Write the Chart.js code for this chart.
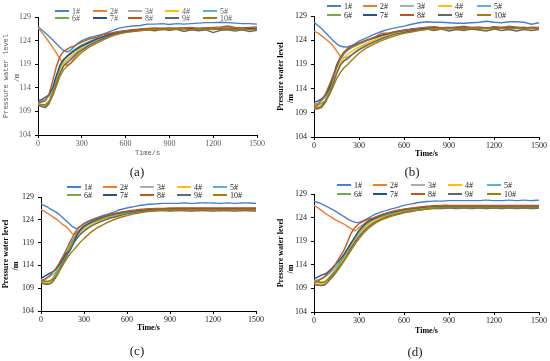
<!DOCTYPE html>
<html><head><meta charset="utf-8">
<script src="https://cdn.jsdelivr.net/npm/chart.js@4.4.0/dist/chart.umd.min.js"></script>
<style>
html,body{margin:0;padding:0;background:#fff;overflow:hidden;}
.p{position:absolute;width:275px;height:180px;}
canvas{display:block;}
</style></head><body>
<div class="p" style="left:0;top:0"><canvas id="ca" width="275" height="180"></canvas></div>
<div class="p" style="left:275px;top:0"><canvas id="cb" width="275" height="180"></canvas></div>
<div class="p" style="left:0;top:180px"><canvas id="cc" width="275" height="180"></canvas></div>
<div class="p" style="left:275px;top:180px"><canvas id="cd" width="275" height="180"></canvas></div>
<script>
// time (s)
const times = [0,25,50,75,100,125,150,175,200,225,250,275,300,
  350,400,450,500,550,600,650,700,750,800,850,900,950,1000,1050,1100,1150,1200,1250,1300,1350,1400,1450,1500];
const seriesLabels = ['1#','2#','3#','4#','5#','6#','7#','8#','9#','10#'];
const panelLabels = ['(a)','(b)','(c)','(d)'];
const xTickValues = [0,300,600,900,1200,1500];
const yTickValues = [104,109,114,119,124,129];

// ---- panel (a) ----
const a1 = [126.9,126.3,125.6,124.9,124.2,123.4,122.6,121.9,121.6,122.0,122.8,123.5,124.0,
  124.6,125.0,125.4,126.0,126.6,126.9,127.1,127.2,127.5,127.5,127.6,127.4,127.6,127.5,127.6,127.7,127.8,127.8,127.9,127.8,127.7,127.6,127.6,127.5];
const a2 = [126.7,125.8,124.8,123.7,122.6,121.4,120.2,119.0,118.8,119.3,120.4,121.3,122.0,
  123.2,124.0,124.8,125.4,125.9,126.1,126.3,126.4,126.5,126.5,126.6,126.4,126.6,126.5,126.6,126.4,126.6,126.5,126.7,126.9,126.6,126.5,126.6,126.6];
const a3 = [110.5,110.2,110.1,110.8,112.6,115.0,117.4,118.8,119.6,120.4,121.0,121.7,122.3,
  123.2,123.9,124.6,125.2,125.6,125.9,126.1,126.2,126.4,126.2,126.5,126.3,126.5,126.2,126.5,126.3,126.5,126.3,126.5,126.4,126.2,126.5,126.3,126.4];
const a4 = [110.4,110.3,110.5,111.2,112.8,115.2,117.6,119.2,120.0,120.7,121.4,122.0,122.5,
  123.4,124.1,124.7,125.2,125.6,125.9,126.1,126.3,126.4,126.5,126.4,126.5,126.5,126.4,126.5,126.5,126.4,126.5,126.5,126.4,126.5,126.5,126.4,126.5];
const a5 = [110.9,111.2,111.6,112.2,113.6,116.0,118.4,119.8,120.6,121.2,121.8,122.3,122.8,
  123.5,124.2,124.8,125.3,125.7,126.0,126.2,126.4,126.5,126.6,126.7,126.6,126.7,126.7,126.6,126.7,126.7,126.6,126.7,126.7,126.6,126.7,126.7,126.7];
const a6 = [110.6,110.3,110.0,111.0,113.2,115.8,118.3,119.8,120.8,121.5,122.1,122.6,123.1,
  123.8,124.4,124.9,125.4,125.8,126.0,126.2,126.3,126.4,126.4,126.5,126.4,126.5,126.5,126.4,126.5,126.5,126.4,126.5,126.5,126.4,126.5,126.5,126.5];
const a7 = [111.2,111.5,112.0,112.5,114.0,116.5,118.8,120.0,120.7,121.3,121.9,122.4,122.9,
  123.6,124.3,124.9,125.4,125.8,126.0,126.2,126.3,126.4,126.5,126.5,126.6,126.5,126.6,126.6,126.5,126.6,126.6,126.5,126.6,126.6,126.5,126.6,126.6];
const a8 = [110.8,111.0,111.2,112.6,115.3,118.4,120.6,121.7,122.2,122.6,122.9,123.3,123.7,
  124.3,124.7,125.3,125.6,125.9,126.1,126.3,126.4,126.6,126.7,126.5,126.7,126.6,126.7,126.8,126.6,126.7,126.8,126.9,127.1,126.8,126.7,126.8,126.9];
const a9 = [110.3,110.0,109.8,110.6,112.4,114.8,117.0,118.6,119.3,120.0,120.8,121.5,122.0,
  123.0,123.8,124.5,125.1,125.5,125.8,126.0,126.2,126.3,126.1,126.4,126.2,126.4,125.9,126.3,126.1,126.3,125.7,126.2,126.3,126.0,126.3,125.9,126.2];
const a10 = [110.6,110.5,110.4,111.0,112.3,114.3,116.4,117.8,118.6,119.2,120.0,120.8,121.5,
  122.6,123.4,124.2,124.9,125.4,125.7,125.9,126.1,126.3,126.4,126.3,126.5,126.4,126.5,126.3,126.5,126.4,126.5,126.4,126.5,126.4,126.5,126.3,126.4];

// ---- panel (b) ----
const b1 = [127.7,127.1,126.4,125.6,124.8,124.0,123.3,122.8,122.6,122.6,122.9,123.3,123.8,
  124.5,125.2,125.8,126.3,126.6,126.9,127.3,127.6,127.8,127.7,127.7,127.6,127.5,127.5,127.6,127.7,127.9,127.7,127.6,127.8,127.8,127.7,127.3,127.6];
const b2 = [125.9,125.5,124.9,124.3,123.7,122.9,121.8,120.7,120.4,120.5,121.0,121.6,122.2,
  123.1,123.8,124.5,125.0,125.5,125.9,126.2,126.4,126.6,126.5,126.6,126.4,126.6,126.7,126.5,126.6,126.4,126.6,126.7,126.5,126.6,126.5,126.6,126.5];
const b3 = [110.0,109.8,110.0,111.0,112.8,115.0,117.3,119.0,119.9,120.4,121.0,121.6,122.2,
  123.1,123.8,124.4,125.0,125.4,125.8,126.0,126.2,126.4,126.2,126.5,126.2,126.4,126.3,126.5,126.2,126.4,126.3,126.5,126.2,126.4,126.3,126.5,126.4];
const b4 = [110.5,110.3,110.5,111.3,113.0,115.3,117.6,119.4,120.4,121.1,121.7,122.2,122.6,
  123.4,124.0,124.6,125.1,125.5,125.9,126.1,126.3,126.4,126.5,126.4,126.5,126.5,126.4,126.5,126.5,126.4,126.5,126.5,126.4,126.5,126.5,126.4,126.5];
const b5 = [110.8,111.0,111.5,112.2,113.6,115.8,118.2,120.0,121.1,121.9,122.4,122.8,123.2,
  123.9,124.5,125.0,125.4,125.8,126.1,126.3,126.5,126.6,126.7,126.6,126.7,126.7,126.6,126.7,126.7,126.6,126.7,126.7,126.6,126.7,126.7,126.6,126.7];
const b6 = [110.3,110.0,110.1,111.4,113.4,115.9,118.4,120.3,121.4,122.1,122.5,122.9,123.2,
  123.9,124.4,124.9,125.3,125.7,126.0,126.2,126.3,126.4,126.5,126.4,126.5,126.5,126.4,126.5,126.5,126.4,126.5,126.5,126.4,126.5,126.5,126.4,126.5];
const b7 = [111.2,111.4,111.9,112.6,114.0,116.3,118.8,120.4,121.5,122.2,122.7,123.1,123.4,
  124.0,124.5,125.0,125.4,125.8,126.0,126.2,126.4,126.5,126.6,126.5,126.6,126.6,126.5,126.6,126.6,126.5,126.6,126.6,126.5,126.6,126.6,126.5,126.6];
const b8 = [110.1,110.6,111.6,112.8,114.6,116.5,118.4,120.2,121.5,122.3,122.7,123.0,123.4,
  123.9,124.6,125.4,125.5,125.8,126.0,126.3,126.5,126.7,126.8,126.6,126.5,126.7,126.9,126.6,126.7,126.5,126.8,126.6,126.9,126.7,126.5,126.7,126.6];
const b9 = [109.7,109.9,110.3,111.2,112.7,114.8,117.0,118.8,119.7,120.2,120.9,121.5,122.0,
  122.9,123.6,124.3,124.9,125.3,125.6,125.9,126.1,126.3,126.0,126.3,125.9,126.2,126.0,126.3,126.1,125.9,126.3,126.0,126.2,125.9,126.2,126.0,126.2];
const b10 = [110.6,110.7,110.9,111.5,112.6,114.2,116.0,117.3,118.3,119.0,119.8,120.6,121.3,
  122.4,123.2,123.9,124.5,125.0,125.4,125.7,126.0,126.2,126.4,126.3,126.5,126.4,126.3,126.5,126.4,126.5,126.3,126.5,126.4,126.5,126.3,126.5,126.4];

// ---- panel (c) ----
const c1 = [127.5,127.1,126.7,126.2,125.8,125.2,124.5,123.8,123.1,122.4,122.1,122.6,123.2,
  124.0,124.6,125.1,125.6,126.2,126.6,126.9,127.2,127.4,127.5,127.6,127.6,127.6,127.7,127.6,127.7,127.7,127.7,127.6,127.7,127.6,127.7,127.7,127.6];
const c2 = [126.3,125.8,125.3,124.8,124.3,123.7,123.0,122.5,121.7,120.8,121.3,122.0,122.6,
  123.4,124.0,124.6,125.1,125.5,125.8,126.0,126.2,126.3,126.4,126.4,126.4,126.4,126.4,126.4,126.4,126.4,126.4,126.4,126.4,126.4,126.4,126.4,126.4];
const c3 = [110.4,110.1,110.0,110.3,111.4,112.8,114.4,116.0,117.6,119.0,120.2,121.0,121.7,
  122.7,123.5,124.1,124.6,125.0,125.4,125.7,125.9,126.0,126.1,126.2,126.1,126.2,126.2,126.1,126.2,126.2,126.1,126.2,126.2,126.1,126.2,126.2,126.1];
const c4 = [110.5,110.3,110.2,110.6,111.6,113.0,114.7,116.3,117.9,119.3,120.4,121.3,121.9,
  122.9,123.7,124.3,124.8,125.2,125.5,125.8,126.0,126.1,126.2,126.3,126.3,126.3,126.3,126.3,126.3,126.3,126.3,126.3,126.3,126.3,126.3,126.3,126.3];
const c5 = [110.8,111.0,111.4,111.9,112.4,113.4,114.8,116.3,117.6,119.2,120.6,121.6,122.3,
  123.3,124.0,124.6,125.0,125.4,125.7,125.9,126.1,126.2,126.3,126.3,126.4,126.4,126.4,126.4,126.4,126.4,126.4,126.4,126.4,126.4,126.4,126.4,126.4];
const c6 = [110.7,110.6,110.5,110.9,112.0,113.2,114.8,116.5,118.2,119.8,121.0,121.8,122.4,
  123.3,124.0,124.5,125.0,125.3,125.6,125.8,126.0,126.1,126.2,126.3,126.3,126.3,126.3,126.3,126.3,126.3,126.3,126.3,126.3,126.3,126.3,126.3,126.3];
const c7 = [111.2,111.6,112.1,112.5,113.0,114.0,115.3,116.6,117.1,118.8,120.6,121.8,122.6,
  123.5,124.2,124.8,125.2,125.5,125.8,126.0,126.2,126.3,126.4,126.4,126.4,126.5,126.5,126.5,126.5,126.5,126.5,126.5,126.5,126.5,126.5,126.5,126.5];
const c8 = [110.6,110.9,111.5,112.3,113.2,114.4,115.8,117.3,119.0,120.5,121.8,122.6,123.1,
  123.8,124.4,124.9,125.3,125.6,125.9,126.1,126.3,126.4,126.5,126.5,126.6,126.6,126.6,126.6,126.6,126.6,126.6,126.6,126.6,126.6,126.6,126.6,126.6];
const c9 = [110.2,109.9,109.9,110.2,111.2,112.6,114.2,115.8,117.3,118.7,119.9,120.8,121.5,
  122.6,123.4,124.0,124.5,124.9,125.3,125.6,125.8,125.9,126.0,126.0,125.9,126.0,126.0,125.9,126.0,126.0,125.9,126.0,126.0,125.9,126.0,126.0,125.9];
const c10 = [110.6,110.5,110.5,110.8,111.5,112.6,113.9,115.2,116.4,117.3,118.2,119.1,119.9,
  121.3,122.4,123.2,123.9,124.5,124.9,125.3,125.6,125.8,126.0,126.1,126.1,126.2,126.2,126.2,126.2,126.2,126.2,126.2,126.2,126.2,126.2,126.2,126.2];

// ---- panel (d) ----
const d1 = [127.5,127.2,126.9,126.5,126.1,125.7,125.2,124.7,124.2,123.7,123.3,123.0,123.0,
  123.7,124.6,125.2,125.7,126.1,126.6,126.9,127.2,127.4,127.5,127.5,127.6,127.6,127.6,127.6,127.6,127.7,127.6,127.6,127.7,127.6,127.7,127.6,127.7];
const d2 = [126.6,126.1,125.5,124.9,124.4,123.9,123.4,123.0,122.6,122.1,121.6,121.2,121.9,
  123.1,123.9,124.6,125.1,125.5,125.8,126.0,126.2,126.3,126.4,126.4,126.4,126.4,126.4,126.4,126.4,126.4,126.4,126.4,126.4,126.4,126.4,126.4,126.4];
const d3 = [110.0,109.8,109.7,109.9,110.8,111.7,112.7,113.8,115.1,116.5,117.9,119.1,120.2,
  121.9,123.0,123.8,124.4,124.8,125.2,125.5,125.7,125.9,126.0,126.0,126.1,126.0,126.1,126.0,126.1,126.0,126.1,126.0,126.1,126.0,126.1,126.0,126.1];
const d4 = [110.4,110.2,110.0,110.2,111.0,112.0,113.1,114.3,115.6,117.0,118.3,119.5,120.6,
  122.2,123.2,124.0,124.6,125.0,125.3,125.6,125.8,126.0,126.1,126.2,126.2,126.2,126.2,126.2,126.2,126.2,126.2,126.2,126.2,126.2,126.2,126.2,126.2];
const d5 = [110.7,110.8,111.1,111.5,112.1,112.9,113.8,114.8,116.0,117.3,118.6,119.8,120.9,
  122.6,123.6,124.3,124.8,125.2,125.5,125.8,126.0,126.2,126.3,126.4,126.4,126.4,126.4,126.4,126.4,126.4,126.4,126.4,126.4,126.4,126.4,126.4,126.4];
const d6 = [110.6,110.4,110.2,110.4,111.3,112.2,113.2,114.4,115.8,117.2,118.6,119.9,121.0,
  122.6,123.6,124.2,124.7,125.1,125.4,125.7,125.9,126.1,126.2,126.3,126.3,126.3,126.3,126.3,126.3,126.3,126.3,126.3,126.3,126.3,126.3,126.3,126.3];
const d7 = [111.1,111.4,111.8,112.1,112.7,113.5,114.3,115.2,116.2,117.5,118.8,120.0,121.3,
  122.9,123.8,124.5,125.0,125.4,125.7,125.9,126.1,126.3,126.4,126.5,126.5,126.5,126.5,126.5,126.5,126.5,126.5,126.5,126.5,126.5,126.5,126.5,126.5];
const d8 = [110.2,110.6,111.0,111.6,112.4,113.3,114.5,115.8,117.1,119.0,120.8,121.9,122.7,
  123.5,124.0,124.6,125.1,125.5,125.8,126.0,126.2,126.4,126.5,126.6,126.6,126.6,126.6,126.6,126.6,126.6,126.6,126.6,126.6,126.6,126.6,126.6,126.6];
const d9 = [109.9,109.7,109.6,109.8,110.6,111.5,112.5,113.6,114.9,116.3,117.7,118.9,120.0,
  121.7,122.9,123.7,124.3,124.7,125.1,125.4,125.6,125.8,125.9,125.9,126.0,125.9,126.0,125.9,126.0,125.9,126.0,125.9,126.0,125.9,126.0,125.9,126.0];
const d10 = [110.5,110.4,110.3,110.5,111.1,111.9,112.8,113.8,114.8,116.0,117.2,118.4,119.5,
  121.3,122.6,123.5,124.1,124.6,125.0,125.3,125.6,125.8,126.0,126.1,126.1,126.1,126.1,126.1,126.1,126.1,126.1,126.1,126.1,126.1,126.1,126.1,126.1];

const seriesColors = ['#4680D0','#ED7D31','#ADADAD','#FFC000','#5BB0E2','#70AD47','#27508E','#C0581C','#666666','#A47C08'];

const panelA = [a1,a2,a3,a4,a5,a6,a7,a8,a9,a10];
const panelB = [b1,b2,b3,b4,b5,b6,b7,b8,b9,b10];
const panelC = [c1,c2,c3,c4,c5,c6,c7,c8,c9,c10];
const panelD = [d1,d2,d3,d4,d5,d6,d7,d8,d9,d10];

function makePanel(canvasId, series, label, cfg) {
  const legendPlugin = {
    id: 'customLegend',
    afterDraw(chart) {
      const ctx = chart.ctx;
      ctx.save();
      ctx.textBaseline = 'middle';
      ctx.textAlign = 'left';
      ctx.font = cfg.legendFont;
      chart.data.datasets.forEach((ds, i) => {
        const col = i % 5, row = Math.floor(i / 5);
        const x = cfg.legendX[col], y = cfg.legendY[row];
        ctx.strokeStyle = ds.borderColor;
        ctx.lineWidth = 2;
        ctx.beginPath();
        ctx.moveTo(x, y);
        ctx.lineTo(x + 14, y);
        ctx.stroke();
        ctx.fillStyle = cfg.legendColor;
        ctx.fillText(ds.label, x + 17, y + 0.5);
      });
      ctx.font = '13px "Liberation Serif", serif';
      ctx.fillStyle = '#222';
      ctx.textAlign = 'center';
      ctx.fillText(label, cfg.labelX, cfg.labelY);
      ctx.restore();
    }
  };
  const axisCommon = {
    grid: { drawOnChartArea: false, drawTicks: true, tickLength: 3, color: '#000', lineWidth: 1 },
    border: { color: '#000', width: 1 }
  };
  return new Chart(document.getElementById(canvasId), {
    type: 'line',
    data: {
      datasets: series.map((vals, i) => ({
        label: seriesLabels[i],
        data: times.map((t, j) => ({ x: t, y: vals[j] })),
        borderColor: seriesColors[i],
        backgroundColor: seriesColors[i],
        borderWidth: 1.4,
        pointRadius: 0,
        tension: cfg.tension,
        order: 10 - i,
        fill: false
      }))
    },
    options: {
      responsive: false,
      animation: false,
      devicePixelRatio: 1,
      layout: { padding: { left: 0, top: cfg.T, right: cfg.R, bottom: cfg.B } },
      plugins: { legend: { display: false }, tooltip: { enabled: false }, title: { display: false } },
      scales: {
        x: Object.assign({}, axisCommon, {
          type: 'linear', min: 0, max: 1500,
          afterFit: s => { s.height = cfg.H; },
          afterBuildTicks: s => { s.ticks = xTickValues.map(v => ({ value: v })); },
          ticks: { autoSkip: false, maxRotation: 0, padding: 1, font: cfg.tickFont, color: cfg.tickColor, callback: v => String(v) },
          title: { display: true, text: 'Time/s', font: cfg.titleFont, color: cfg.titleColor, padding: 0 }
        }),
        y: Object.assign({}, axisCommon, {
          min: 104, max: 129,
          afterFit: s => { s.width = cfg.L; },
          afterBuildTicks: s => { s.ticks = yTickValues.map(v => ({ value: v })); },
          ticks: { padding: 4, font: cfg.tickFont, color: cfg.tickColor, callback: v => String(v) },
          title: { display: true, text: ['Pressure water level', '/m' + ' '.repeat(cfg.mSpaces)], font: cfg.yTitleFont, color: cfg.titleColor, padding: { top: 1, bottom: 0 } }
        })
      }
    },
    plugins: [legendPlugin]
  });
}

const serifTick = { family: '"Liberation Serif", serif', size: 8 };
const boldTitle = { family: '"Liberation Serif", serif', size: 8, weight: 'bold', lineHeight: 1.25 };

makePanel('ca', panelA, panelLabels[0], {
  L: 38, T: 17, R: 18, H: 22, B: 23, tension: 0,
  legendX: [55, 93, 128, 165, 203], legendY: [11, 18], labelX: 137, labelY: 173,
  legendFont: '8px "Liberation Serif", serif', legendColor: '#595959',
  tickFont: serifTick, tickColor: '#595959',
  titleFont: { family: '"Liberation Mono", monospace', size: 7 },
  yTitleFont: { family: '"Liberation Mono", monospace', size: 7, lineHeight: 1.5 },
  titleColor: '#595959', mSpaces: 1
});
makePanel('cb', panelB, panelLabels[1], {
  L: 39, T: 16, R: 11, H: 22, B: 21, tension: 0,
  legendX: [52, 88, 125, 163, 202], legendY: [6, 15], labelX: 137, labelY: 173,
  legendFont: '8px "Liberation Serif", serif', legendColor: '#222',
  tickFont: serifTick, tickColor: '#222',
  titleFont: { family: '"Liberation Serif", serif', size: 8, weight: 'bold' },
  yTitleFont: boldTitle, titleColor: '#000', mSpaces: 22
});
makePanel('cc', panelC, panelLabels[2], {
  L: 41, T: 17, R: 19, H: 22, B: 27, tension: 0.3,
  legendX: [67, 103, 140, 177, 213], legendY: [7, 15], labelX: 137, labelY: 172,
  legendFont: '8px "Liberation Serif", serif', legendColor: '#222',
  tickFont: serifTick, tickColor: '#222',
  titleFont: { family: '"Liberation Serif", serif', size: 8, weight: 'bold' },
  yTitleFont: boldTitle, titleColor: '#000', mSpaces: 12
});
makePanel('cd', panelD, panelLabels[3], {
  L: 39, T: 14, R: 11, H: 24, B: 24, tension: 0.3,
  legendX: [62, 98, 136, 173, 212], legendY: [5, 14], labelX: 140, labelY: 173,
  legendFont: '8px "Liberation Serif", serif', legendColor: '#222',
  tickFont: serifTick, tickColor: '#222',
  titleFont: { family: '"Liberation Serif", serif', size: 8, weight: 'bold' },
  yTitleFont: boldTitle, titleColor: '#000', mSpaces: 16
});
</script>
</body></html>
